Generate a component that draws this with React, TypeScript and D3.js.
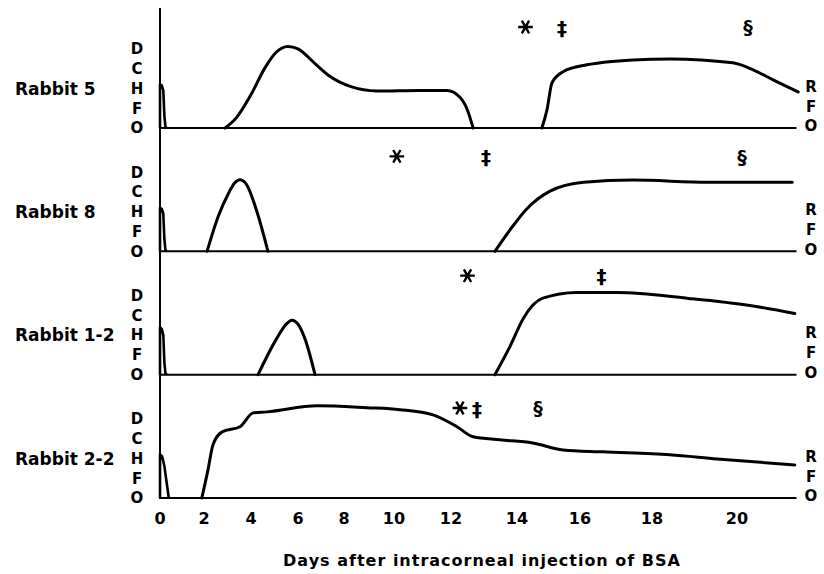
import React from 'react'
import * as d3 from 'd3'

// days on the horizontal axis and the ordinal score levels
const dayTicks = [0, 2, 4, 6, 8, 10, 12, 14, 16, 18, 20]
const leftLevels = ['O', 'F', 'H', 'C', 'D']
const rightLevels = ['O', 'F', 'R']
const rabbits = ['Rabbit 5', 'Rabbit 8', 'Rabbit 1-2', 'Rabbit 2-2']
const lastDay = 21.4

// [day, level], one array per episode
const rabbit5Spike = [[0, 0], [0, 2.2], [0.08, 2.15], [0.15, 1.9], [0.2, 0.6], [0.25, 0.05], [0.32, 0]]
const rabbit5Early = [[2.9, 0], [3.4, 0.55], [3.96, 1.6], [4.6, 3.05], [5.05, 3.8], [5.57, 4.12], [6.0, 4.0], [6.74, 3.25], [7.4, 2.6], [8.25, 2.1], [9.32, 1.87], [10.9, 1.9], [11.86, 1.9], [12.27, 1.55], [12.5, 0.9], [12.67, 0]]
const rabbit5Late = [[14.79, 0], [14.95, 0.9], [15.11, 2.28], [15.46, 2.84], [16.19, 3.19], [17.47, 3.44], [18.42, 3.49], [19.9, 3.29], [20.38, 2.94], [20.85, 2.43], [21.44, 1.82]]

const rabbit8Spike = [[0, 0], [0, 2.2], [0.08, 2.15], [0.15, 1.9], [0.2, 0.6], [0.25, 0.05], [0.32, 0]]
const rabbit8Early = [[2.13, 0], [2.6, 1.75], [3.05, 2.95], [3.3, 3.45], [3.53, 3.62], [3.8, 3.4], [4.26, 1.97], [4.72, 0]]
const rabbit8Late = [[13.33, 0], [13.8, 1.11], [14.3, 2.13], [15.05, 3.04], [16.1, 3.49], [17.47, 3.6], [19.33, 3.49], [21.3, 3.49]]

const rabbit12Spike = [[0, 0], [0, 2.4], [0.08, 2.3], [0.15, 2.0], [0.2, 0.6], [0.25, 0.05], [0.32, 0]]
const rabbit12Early = [[4.3, 0], [5.09, 1.82], [5.5, 2.55], [5.74, 2.75], [6.0, 2.55], [6.3, 1.82], [6.74, 0]]
const rabbit12Late = [[13.33, 0], [13.8, 1.47], [14.2, 2.84], [14.8, 3.85], [15.9, 4.15], [17.03, 4.15], [18.86, 3.85], [20.3, 3.49], [21.36, 3.09]]

const rabbit22Spike = [[0, 0], [0, 2.2], [0.1, 2.1], [0.2, 1.6], [0.4, 0]]
const rabbit22Course = [[1.9, 0], [2.17, 1.42], [2.38, 2.68], [2.77, 3.34], [3.53, 3.6], [4.09, 4.3], [4.68, 4.35], [6.83, 4.66], [8.92, 4.56], [10.21, 4.46], [11.37, 4.2], [12.18, 3.6], [12.67, 3.09], [13.48, 2.94], [14.5, 2.78], [15.46, 2.43], [16.63, 2.33], [18.42, 2.18], [19.53, 1.97], [21.36, 1.67]]

const spikes = [rabbit5Spike, rabbit8Spike, rabbit12Spike, rabbit22Spike]
const episodes = [
  [rabbit5Early, rabbit5Late],
  [rabbit8Early, rabbit8Late],
  [rabbit12Early, rabbit12Late],
  [rabbit22Course]
]

// footnote marks (day of the event), null where absent
const asteriskDays = [14.27, 10.1, 12.5, 12.27]
const daggerDays = [15.43, 13.06, 16.6, 12.79]
const sectionDays = [20.26, 20.12, null, 14.67]

const W = 824
const H = 574
const font = '"DejaVu Sans", sans-serif'
const markRise = [101, 95, 99, 90]

export default function App() {
  // the printed day axis is not evenly spaced, so use a piecewise scale
  const x = d3.scaleLinear()
    .domain(dayTicks)
    .range([160, 204, 251, 298, 344, 394, 451, 517, 580, 652, 737])

  const panelBase = d3.scaleLinear().domain([0, 3]).range([128, 498])
  const levelStep = 19.8

  const curve = (base: number) => d3.line<number[]>()
    .x(d => x(d[0]))
    .y(d => base - d[1] * levelStep)
    .curve(d3.curveMonotoneX)

  const straight = (base: number) => d3.line<number[]>()
    .x(d => x(d[0]))
    .y(d => base - d[1] * levelStep)

  const star = d3.symbol(d3.symbolAsterisk, 150)()

  return (
    <svg width={W} height={H} style={{ position: 'absolute', left: 0, top: 0, background: '#fff' }}>
      <line x1={x(0)} x2={x(0)} y1={8} y2={panelBase(3) + 1} stroke="#000" strokeWidth={2} />

      {rabbits.map((name, i) => {
        const base = panelBase(i)
        return (
          <g key={name}>
            <line x1={x(0)} x2={x(lastDay)} y1={base} y2={base} stroke="#000" strokeWidth={2} />
            <text x={15} y={base - 2 * levelStep} dy="0.36em" fontFamily={font} fontWeight="bold"
              fontSize={17}>{name}</text>
            {leftLevels.map((l, k) => (
              <text key={'l' + k} x={137} y={base - k * levelStep} dy="0.36em" textAnchor="middle"
                fontFamily={font} fontWeight="bold" fontSize={15}>{l}</text>
            ))}
            {rightLevels.map((l, k) => (
              <text key={'r' + k} x={811} y={base - 2 - k * levelStep} dy="0.36em" textAnchor="middle"
                fontFamily={font} fontWeight="bold" fontSize={15}>{l}</text>
            ))}
            <path d={straight(base)(spikes[i]) || ''} fill="none" stroke="#000" strokeWidth={2.6}
              strokeLinejoin="round" />
            {episodes[i].map((seg, k) => (
              <path key={k} d={curve(base)(seg) || ''} fill="none" stroke="#000" strokeWidth={3}
                strokeLinecap="round" strokeLinejoin="round" />
            ))}
            <path d={star || ''} transform={`translate(${x(asteriskDays[i])},${base - markRise[i]}) rotate(90)`}
              fill="none" stroke="#000" strokeWidth={2.4} />
            <text x={x(daggerDays[i])} y={base - markRise[i]} dy="0.38em" textAnchor="middle"
              fontFamily={font} fontWeight="bold" fontSize={20}>‡</text>
            {sectionDays[i] !== null && (
              <text x={x(sectionDays[i] as number)} y={base - markRise[i]} dy="0.38em" textAnchor="middle"
                fontFamily={font} fontWeight="bold" fontSize={19}>§</text>
            )}
          </g>
        )
      })}

      {dayTicks.map(d => (
        <text key={d} x={x(d)} y={518} dy="0.36em" textAnchor="middle" fontFamily={font}
          fontWeight="bold" fontSize={16}>{d}</text>
      ))}

      <text x={482} y={560} dy="0.36em" textAnchor="middle" fontFamily={font} fontWeight="bold"
        fontSize={16} letterSpacing={1}>Days after intracorneal injection of BSA</text>
    </svg>
  )
}
